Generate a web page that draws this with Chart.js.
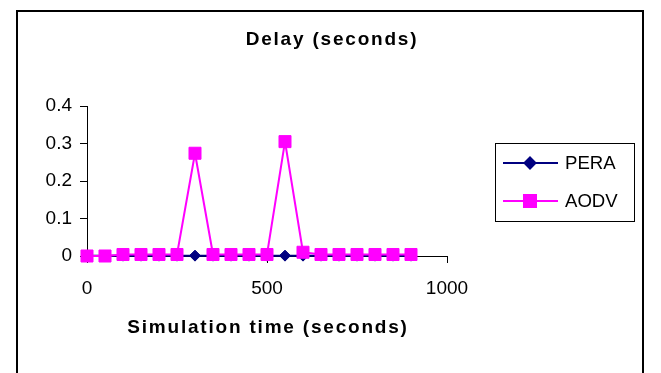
<!DOCTYPE html>
<html>
<head>
<meta charset="utf-8">
<script src="https://cdn.jsdelivr.net/npm/chart.js@4/dist/chart.umd.min.js"></script>
<style>
  html, body { margin: 0; padding: 0; background: #fff; }
  #wrap { position: relative; width: 661px; height: 373px; }
</style>
</head>
<body>
<div id="wrap"><canvas id="c" width="661" height="373"></canvas></div>
<script>
const chartTitle = "Delay (seconds)";
const xTitle = "Simulation time (seconds)";
const seriesNames = ["PERA", "AODV"];
const simTimes = [0, 50, 100, 150, 200, 250, 300, 350, 400, 450, 500, 550, 600, 650, 700, 750, 800, 850, 900];
const peraDelay = [0.001, 0.001, 0.001, 0.001, 0.001, 0.001, 0.001, 0.001, 0.001, 0.001, 0.001, 0.001, 0.001, 0.001, 0.001, 0.001, 0.001, 0.001, 0.001];
const aodvDelay = [0, 0, 0.004, 0.004, 0.004, 0.004, 0.274, 0.004, 0.004, 0.004, 0.004, 0.305, 0.01, 0.004, 0.004, 0.004, 0.004, 0.004, 0.004];
const xTicks = [0, 500, 1000];
const yTicks = [0, 0.1, 0.2, 0.3, 0.4];

const FONT = "'Liberation Sans', Arial, sans-serif";
const NAVY = "#000080";
const MAGENTA = "#FF00FF";

const frameAndText = {
  id: 'frameAndText',
  beforeDraw(chart) {
    const ctx = chart.ctx;
    ctx.save();
    ctx.strokeStyle = '#000';
    ctx.lineWidth = 2;
    ctx.beginPath();
    ctx.moveTo(17, 373); ctx.lineTo(17, 11); ctx.lineTo(643, 11); ctx.lineTo(643, 373);
    ctx.stroke();
    ctx.restore();
  },
  afterDraw(chart) {
    const ctx = chart.ctx;
    const ca = chart.chartArea;
    ctx.save();
    ctx.fillStyle = '#000';
    ctx.textAlign = 'center';
    ctx.textBaseline = 'middle';
    ctx.font = "bold 19px " + FONT;
    ctx.letterSpacing = '1.8px';
    ctx.fillText(chartTitle, 332, 40);
    ctx.fillText(xTitle, (ca.left + ca.right) / 2 + 1, 328);
    ctx.letterSpacing = '0px';

    // legend
    const lx = 495.5, ly = 143.5, lw = 139, lh = 78;
    ctx.strokeStyle = '#000';
    ctx.lineWidth = 1;
    ctx.strokeRect(lx, ly, lw, lh);
    const rows = [
      { y: 163, ds: chart.data.datasets[0] },
      { y: 201, ds: chart.data.datasets[1] }
    ];
    rows.forEach(r => {
      ctx.strokeStyle = r.ds.borderColor;
      ctx.lineWidth = r.ds.borderWidth;
      ctx.beginPath();
      ctx.moveTo(503, r.y); ctx.lineTo(558, r.y);
      ctx.stroke();
      Chart.helpers.drawPoint(ctx, {
        pointStyle: r.ds.pointStyle, radius: r.ds.pointRadius,
        borderWidth: r.ds.pointBorderWidth, rotation: 0
      }, 530, r.y);
      ctx.fillStyle = r.ds.pointBackgroundColor;
      ctx.strokeStyle = r.ds.pointBorderColor;
      ctx.lineWidth = r.ds.pointBorderWidth;
      ctx.fill();
      ctx.stroke();
      ctx.fillStyle = '#000';
      ctx.font = "18.6px " + FONT;
      ctx.textAlign = 'left';
      ctx.textBaseline = 'middle';
      ctx.fillText(r.ds.label, 565, r.y + 1);
    });
    ctx.restore();
  }
};

new Chart(document.getElementById('c'), {
  type: 'line',
  data: {
    labels: simTimes,
    datasets: [
      {
        label: seriesNames[0],
        data: simTimes.map((t, i) => ({ x: t, y: peraDelay[i] })),
        borderColor: NAVY, backgroundColor: NAVY,
        borderWidth: 2,
        pointStyle: 'rectRot', pointRadius: 5.5,
        pointBackgroundColor: NAVY, pointBorderColor: NAVY, pointBorderWidth: 1,
        tension: 0, clip: false, order: 1
      },
      {
        label: seriesNames[1],
        data: simTimes.map((t, i) => ({ x: t, y: aodvDelay[i] })),
        borderColor: MAGENTA, backgroundColor: MAGENTA,
        borderWidth: 2,
        pointStyle: 'rect', pointRadius: 8.5,
        pointBackgroundColor: MAGENTA, pointBorderColor: MAGENTA, pointBorderWidth: 1,
        tension: 0, clip: false, order: 0
      }
    ]
  },
  options: {
    responsive: false,
    animation: false,
    events: [],
    layout: { padding: { left: 0, top: 106, right: 214, bottom: 0 } },
    plugins: { legend: { display: false }, title: { display: false }, tooltip: { enabled: false } },
    scales: {
      x: {
        type: 'linear', min: 0, max: 1000,
        afterBuildTicks: s => { s.ticks = xTicks.map(v => ({ value: v })); },
        afterFit: s => { s.height = 117; },
        grid: { display: true, drawOnChartArea: false, drawTicks: true, tickLength: 7, color: '#000', lineWidth: 1 },
        border: { display: true, color: '#000', width: 1 },
        ticks: { color: '#000', font: { family: FONT, size: 19 }, padding: 14, maxRotation: 0,
          callback: v => String(v) }
      },
      y: {
        type: 'linear', min: 0, max: 0.4,
        afterBuildTicks: s => { s.ticks = yTicks.map(v => ({ value: v })); },
        afterFit: s => { s.width = 87; },
        grid: { display: true, drawOnChartArea: false, drawTicks: true, tickLength: 7, color: '#000', lineWidth: 1 },
        border: { display: true, color: '#000', width: 1 },
        ticks: { color: '#000', font: { family: FONT, size: 19 }, padding: 8,
          callback: v => String(Math.round(v * 10) / 10) }
      }
    }
  },
  plugins: [frameAndText]
});
</script>
</body>
</html>
